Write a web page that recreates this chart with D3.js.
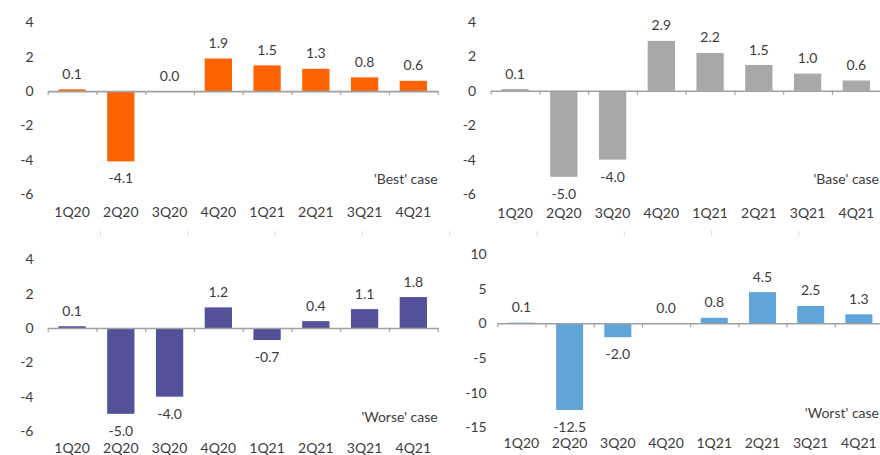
<!DOCTYPE html>
<html>
<head>
<meta charset="utf-8">
<script src="https://cdn.jsdelivr.net/npm/d3@7"></script>
<style>
  body { margin: 0; background: #fff; }
  svg { display: block; font-family: Lato, "Open Sans", sans-serif; }
</style>
</head>
<body>
<div id="chart"></div>
<script>
// quarters shown in every panel
var quarters = ["1Q20","2Q20","3Q20","4Q20","1Q21","2Q21","3Q21","4Q21"];

// GDP growth % QoQ by scenario
var bestValues  = [0.1, -4.1, 0.0, 1.9, 1.5, 1.3, 0.8, 0.6];
var baseValues  = [0.1, -5.0, -4.0, 2.9, 2.2, 1.5, 1.0, 0.6];
var worseValues = [0.1, -5.0, -4.0, 1.2, -0.7, 0.4, 1.1, 1.8];
var worstValues = [0.1, -12.5, -2.0, 0.0, 0.8, 4.5, 2.5, 1.3];

var smallTicks = [-6, -4, -2, 0, 2, 4];
var bigTicks = [-15, -10, -5, 0, 5, 10];

var W = 880, H = 455;
var FS = 14;

// plain hyphen instead of d3's unicode minus
function fmt1(d) { return d3.format(".1f")(d).replace("\u2212", "-"); }
function fmt0(d) { return String(d); }

var svg = d3.select("#chart")
  .append("svg")
    .attr("width", W)
    .attr("height", H);

// panel layout
var panels = [
  {name: "'Best' case",  values: bestValues,  color: "#FF6200", ticks: smallTicks,
   x: [47.7, 437.7], y: [194, 22.5], lblX: 33.5, catY: 217, capY: 184},
  {name: "'Base' case",  values: baseValues,  color: "#A8A8A8", ticks: smallTicks,
   x: [490.7, 880.7], y: [194, 22], lblX: 476, catY: 218, capY: 184},
  {name: "'Worse' case", values: worseValues, color: "#525199", ticks: smallTicks,
   x: [47.7, 437.7], y: [431, 259.3], lblX: 33.5, catY: 452.5, capY: 421.5},
  {name: "'Worst' case", values: worstValues, color: "#60A5DA", ticks: bigTicks,
   x: [497.3, 883], y: [427.3, 254], lblX: 486.7, catY: 448, capY: 418}
];

// faint leftover tick marks between the rows
var ghost = d3.scaleLinear().domain([0, 8]).range([100, 798.4]);
var ghostAxis = svg.append("g")
  .attr("transform", "translate(0,231)")
  .call(d3.axisBottom(ghost).tickValues(d3.range(9)).tickSize(5).tickFormat(""));
ghostAxis.select(".domain").remove();
ghostAxis.selectAll(".tick line").attr("stroke", "#dcdcdc");

panels.forEach(function(p) {
  var g = svg.append("g");

  var x = d3.scaleBand()
    .domain(quarters)
    .range(p.x)
    .paddingInner(0.44)
    .paddingOuter(0.22);

  var y = d3.scaleLinear()
    .domain([p.ticks[0], p.ticks[p.ticks.length - 1]])
    .range(p.y);

  // y labels
  var ya = g.append("g")
    .attr("transform", "translate(" + p.lblX + ",0)")
    .call(d3.axisLeft(y).tickValues(p.ticks).tickSize(0).tickPadding(0).tickFormat(fmt0));
  ya.select(".domain").remove();
  ya.selectAll(".tick text")
    .attr("font-size", FS)
    .attr("font-family", "Lato, 'Open Sans', sans-serif")
    .attr("fill", "#3c3c3c");

  // bars
  g.selectAll("rect.bar")
    .data(p.values)
    .enter()
    .append("rect")
      .attr("class", "bar")
      .attr("x", function(d, i) { return x(quarters[i]); })
      .attr("width", x.bandwidth())
      .attr("y", function(d) { return y(Math.max(d, 0)); })
      .attr("height", function(d) { return Math.abs(y(d) - y(0)); })
      .attr("fill", p.color);

  // zero axis with ticks at band edges
  var edge = d3.scaleLinear().domain([0, quarters.length]).range(p.x);
  var xa = g.append("g")
    .attr("transform", "translate(0," + y(0) + ")")
    .call(d3.axisBottom(edge).tickValues(d3.range(quarters.length + 1)).tickSize(4).tickSizeOuter(0).tickFormat(""));
  xa.select(".domain").attr("stroke", "#a0a0a0").attr("stroke-width", 1.6);
  xa.selectAll(".tick line").attr("stroke", "#a0a0a0").attr("stroke-width", 1.2);

  // value labels
  g.selectAll("text.val")
    .data(p.values)
    .enter()
    .append("text")
      .attr("class", "val")
      .attr("x", function(d, i) { return x(quarters[i]) + x.bandwidth() / 2; })
      .attr("y", function(d) { return d >= 0 ? y(d) - 10.5 : y(d) + 22; })
      .attr("text-anchor", "middle")
      .attr("font-size", FS)
      .attr("fill", "#3c3c3c")
      .text(fmt1);

  // category labels
  g.selectAll("text.cat")
    .data(quarters)
    .enter()
    .append("text")
      .attr("class", "cat")
      .attr("x", function(d) { return x(d) + x.bandwidth() / 2; })
      .attr("y", p.catY)
      .attr("text-anchor", "middle")
      .attr("font-size", FS)
      .attr("fill", "#3c3c3c")
      .text(function(d) { return d; });

  // scenario caption
  g.append("text")
    .attr("x", Math.min(p.x[1], 879))
    .attr("y", p.capY)
    .attr("text-anchor", "end")
    .attr("font-size", FS)
    .attr("fill", "#3c3c3c")
    .text(p.name);
});
</script>
</body>
</html>
